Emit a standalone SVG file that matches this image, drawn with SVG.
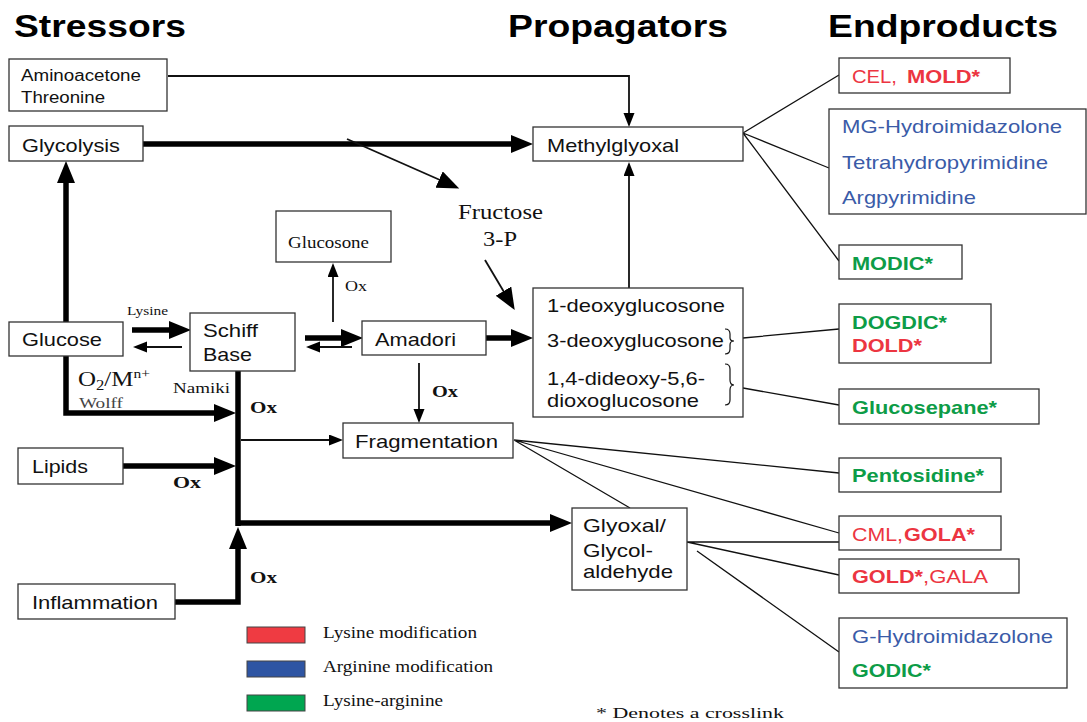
<svg xmlns="http://www.w3.org/2000/svg" width="1087" height="722" viewBox="0 0 1087 722">
<style>
.box{fill:#fff;stroke:#333;stroke-width:1.3}
.s{font-family:"Liberation Sans",Arial,sans-serif;fill:#111}
.t{font-family:"Liberation Serif","Times New Roman",serif;fill:#111}
.ttl{font-family:"Liberation Sans",Arial,sans-serif;font-weight:bold;font-size:31px;fill:#000}
.lbl{font-size:19px}
.b{font-weight:bold}
.red{fill:#ec3541}
.blue{fill:#3a5ba8}
.green{fill:#0d9c47}
.thick{fill:none;stroke:#000;stroke-width:5.5}
.thin{fill:none;stroke:#111;stroke-width:1.8}
.fan{fill:none;stroke:#111;stroke-width:1.3}
</style>
<defs>
<marker id="big" markerUnits="userSpaceOnUse" markerWidth="24" markerHeight="20" refX="1" refY="9" orient="auto"><path d="M0,0 L22,9 L0,18 z" fill="#000"/></marker>
<marker id="small" markerUnits="userSpaceOnUse" markerWidth="16" markerHeight="12" refX="1" refY="5.5" orient="auto"><path d="M0,0 L14,5.5 L0,11 z" fill="#000"/></marker>
</defs>
<rect width="1087" height="722" fill="#fff"/>

<g id="titles">
<text class="ttl" x="14" y="37" textLength="172" lengthAdjust="spacingAndGlyphs">Stressors</text>
<text class="ttl" x="508" y="37" textLength="220" lengthAdjust="spacingAndGlyphs">Propagators</text>
<text class="ttl" x="828" y="37" textLength="230" lengthAdjust="spacingAndGlyphs">Endproducts</text>
</g>

<g id="connectors">
<path class="thin" d="M168,76 H629 V114" marker-end="url(#small)"/>
<path class="thick" d="M143,144 H512" marker-end="url(#big)"/>
<path class="thin" d="M347,139 L440,180" marker-end="url(#big)"/>
<path class="thin" d="M485,260 L504,292" marker-end="url(#big)"/>
<path class="thick" d="M66,322 V182" marker-end="url(#big)"/>
<path class="thick" d="M66,355 V413 H215" marker-end="url(#big)"/>
<path class="thick" d="M123,466 H215" marker-end="url(#big)"/>
<path class="thick" d="M175,602 H238 V548" marker-end="url(#big)"/>
<path class="thick" d="M238,371 V526"/>
<path class="thick" d="M236,523 H551" marker-end="url(#big)"/>
<path class="thin" d="M241,440 H330" marker-end="url(#small)"/>
<path class="thick" d="M132,330 H170" marker-end="url(#big)"/>
<path class="thin" d="M182,347 H146" marker-end="url(#small)"/>
<path class="thick" d="M305,338 H342" marker-end="url(#big)"/>
<path class="thin" d="M352,347 H319" marker-end="url(#small)"/>
<path class="thin" d="M333,322 V276" marker-end="url(#small)"/>
<path class="thick" d="M486,338 H512" marker-end="url(#big)"/>
<path class="thin" d="M419,363 V410" marker-end="url(#small)"/>
<path class="thin" d="M629,288 V175" marker-end="url(#small)"/>
<path class="fan" d="M743,133 L839,75 M743,133 L829,168 M743,133 L839,261"/>
<path class="fan" d="M743,338 L839,329 M743,388 L839,405"/>
<path class="fan" d="M514,440 L839,473 M514,440 L839,533 M514,440 L630,508"/>
<path class="fan" d="M687,542 L839,542 M687,542 L839,575 M697,551 L839,652"/>
</g>

<g id="aminoacetone">
<rect class="box" x="9" y="59" width="158" height="52"/>
<text class="s" x="21" y="81" font-size="16" textLength="120" lengthAdjust="spacingAndGlyphs">Aminoacetone</text>
<text class="s" x="21" y="103" font-size="16" textLength="84" lengthAdjust="spacingAndGlyphs">Threonine</text>
</g>
<g id="glycolysis">
<rect class="box" x="9" y="126" width="134" height="35"/>
<text class="s lbl" x="22" y="152" textLength="98" lengthAdjust="spacingAndGlyphs">Glycolysis</text>
</g>
<g id="glucose">
<rect class="box" x="9" y="322" width="114" height="34"/>
<text class="s lbl" x="22" y="346" textLength="80" lengthAdjust="spacingAndGlyphs">Glucose</text>
</g>
<g id="lipids">
<rect class="box" x="18" y="448" width="105" height="36"/>
<text class="s lbl" x="32" y="473" textLength="56" lengthAdjust="spacingAndGlyphs">Lipids</text>
</g>
<g id="inflammation">
<rect class="box" x="18" y="584" width="157" height="35"/>
<text class="s lbl" x="32" y="609" textLength="126" lengthAdjust="spacingAndGlyphs">Inflammation</text>
</g>
<g id="schiff">
<rect class="box" x="190" y="313" width="105" height="58"/>
<text class="s lbl" x="203" y="337" textLength="55" lengthAdjust="spacingAndGlyphs">Schiff</text>
<text class="s lbl" x="203" y="361" textLength="49" lengthAdjust="spacingAndGlyphs">Base</text>
</g>
<g id="glucosone">
<rect class="box" x="276" y="211" width="115" height="51"/>
<text class="t" x="288" y="248" font-size="17" textLength="81" lengthAdjust="spacingAndGlyphs">Glucosone</text>
</g>
<g id="amadori">
<rect class="box" x="362" y="321" width="124" height="34"/>
<text class="s lbl" x="375" y="346" textLength="81" lengthAdjust="spacingAndGlyphs">Amadori</text>
</g>
<g id="fructose">
<text class="t" x="458" y="219" font-size="21" textLength="85" lengthAdjust="spacingAndGlyphs">Fructose</text>
<text class="t" x="483" y="246" font-size="21" textLength="34" lengthAdjust="spacingAndGlyphs">3-P</text>
</g>
<g id="methylglyoxal">
<rect class="box" x="533" y="127" width="210" height="34"/>
<text class="s lbl" x="547" y="152" textLength="132" lengthAdjust="spacingAndGlyphs">Methylglyoxal</text>
</g>
<g id="deoxy">
<rect class="box" x="533" y="288" width="210" height="129"/>
<text class="s lbl" x="547" y="312" textLength="178" lengthAdjust="spacingAndGlyphs">1-deoxyglucosone</text>
<text class="s lbl" x="547" y="347" textLength="177" lengthAdjust="spacingAndGlyphs">3-deoxyglucosone</text>
<text class="s lbl" x="547" y="385" textLength="158" lengthAdjust="spacingAndGlyphs">1,4-dideoxy-5,6-</text>
<text class="s lbl" x="547" y="407" textLength="152" lengthAdjust="spacingAndGlyphs">dioxoglucosone</text>
<path d="M725,329 Q730,329 730,334 V338 Q730,341 734,341 Q730,341 730,345 V349 Q730,354 725,354" fill="none" stroke="#111" stroke-width="1.2"/>
<path d="M725,364 Q730,364 730,369 V380 Q730,385 734,385 Q730,385 730,390 V400 Q730,405 725,405" fill="none" stroke="#111" stroke-width="1.2"/>
</g>
<g id="fragmentation">
<rect class="box" x="343" y="423" width="170" height="35"/>
<text class="s lbl" x="355" y="448" textLength="143" lengthAdjust="spacingAndGlyphs">Fragmentation</text>
</g>
<g id="glyoxal">
<rect class="box" x="572" y="508" width="115" height="82"/>
<text class="s lbl" x="583" y="532" textLength="83" lengthAdjust="spacingAndGlyphs">Glyoxal/</text>
<text class="s lbl" x="583" y="557" textLength="70" lengthAdjust="spacingAndGlyphs">Glycol-</text>
<text class="s lbl" x="583" y="578" textLength="90" lengthAdjust="spacingAndGlyphs">aldehyde</text>
</g>

<g id="edge-labels">
<text class="t" x="127" y="315" font-size="13" textLength="41" lengthAdjust="spacingAndGlyphs">Lysine</text>
<text class="t" x="78" y="386" font-size="21" textLength="72" lengthAdjust="spacingAndGlyphs">O<tspan font-size="14" dy="4">2</tspan><tspan dy="-4">/M</tspan><tspan font-size="13" dy="-8">n+</tspan></text>
<text class="t" x="79" y="408" font-size="15" fill="#444" textLength="44" lengthAdjust="spacingAndGlyphs" style="fill:#444">Wolff</text>
<text class="t" x="173" y="393" font-size="15" textLength="57" lengthAdjust="spacingAndGlyphs">Namiki</text>
<text class="t b" x="250" y="413" font-size="17" textLength="27" lengthAdjust="spacingAndGlyphs">Ox</text>
<text class="t b" x="173" y="488" font-size="17" textLength="28" lengthAdjust="spacingAndGlyphs">Ox</text>
<text class="t b" x="250" y="583" font-size="17" textLength="27" lengthAdjust="spacingAndGlyphs">Ox</text>
<text class="t b" x="432" y="397" font-size="17" textLength="26" lengthAdjust="spacingAndGlyphs">Ox</text>
<text class="t" x="345" y="291" font-size="15" textLength="22" lengthAdjust="spacingAndGlyphs">Ox</text>
</g>

<g id="cel-mold">
<rect class="box" x="839" y="58" width="171" height="35"/>
<text class="s lbl red" x="852" y="83" textLength="45" lengthAdjust="spacingAndGlyphs">CEL,</text>
<text class="s lbl b red" x="907" y="83" textLength="73" lengthAdjust="spacingAndGlyphs">MOLD*</text>
</g>
<g id="mg-products">
<rect class="box" x="829" y="109" width="257" height="105"/>
<text class="s lbl blue" x="842" y="133" textLength="220" lengthAdjust="spacingAndGlyphs">MG-Hydroimidazolone</text>
<text class="s lbl blue" x="842" y="169" textLength="206" lengthAdjust="spacingAndGlyphs">Tetrahydropyrimidine</text>
<text class="s lbl blue" x="842" y="204" textLength="134" lengthAdjust="spacingAndGlyphs">Argpyrimidine</text>
</g>
<g id="modic">
<rect class="box" x="839" y="245" width="123" height="34"/>
<text class="s lbl b green" x="852" y="270" textLength="81" lengthAdjust="spacingAndGlyphs">MODIC*</text>
</g>
<g id="dogdic-dold">
<rect class="box" x="839" y="304" width="152" height="59"/>
<text class="s lbl b green" x="852" y="329" textLength="95" lengthAdjust="spacingAndGlyphs">DOGDIC*</text>
<text class="s lbl b red" x="852" y="352" textLength="70" lengthAdjust="spacingAndGlyphs">DOLD*</text>
</g>
<g id="glucosepane">
<rect class="box" x="839" y="389" width="200" height="35"/>
<text class="s lbl b green" x="852" y="414" textLength="145" lengthAdjust="spacingAndGlyphs">Glucosepane*</text>
</g>
<g id="pentosidine">
<rect class="box" x="839" y="458" width="162" height="34"/>
<text class="s lbl b green" x="852" y="482" textLength="132" lengthAdjust="spacingAndGlyphs">Pentosidine*</text>
</g>
<g id="cml-gola">
<rect class="box" x="839" y="516" width="162" height="34"/>
<text class="s lbl red" x="852" y="541" textLength="51" lengthAdjust="spacingAndGlyphs">CML,</text>
<text class="s lbl b red" x="904" y="541" textLength="71" lengthAdjust="spacingAndGlyphs">GOLA*</text>
</g>
<g id="gold-gala">
<rect class="box" x="839" y="559" width="180" height="34"/>
<text class="s lbl b red" x="852" y="583" textLength="71" lengthAdjust="spacingAndGlyphs">GOLD*</text>
<text class="s lbl red" x="923" y="583" textLength="65" lengthAdjust="spacingAndGlyphs">,GALA</text>
</g>
<g id="g-products">
<rect class="box" x="839" y="618" width="228" height="70"/>
<text class="s lbl blue" x="852" y="643" textLength="201" lengthAdjust="spacingAndGlyphs">G-Hydroimidazolone</text>
<text class="s lbl b green" x="852" y="677" textLength="79" lengthAdjust="spacingAndGlyphs">GODIC*</text>
</g>

<g id="legend">
<rect x="247" y="627" width="58" height="16" fill="#ef3b42" stroke="#444" stroke-width="1"/>
<rect x="247" y="661" width="58" height="16" fill="#2e55a3" stroke="#444" stroke-width="1"/>
<rect x="247" y="695" width="58" height="16" fill="#00a650" stroke="#444" stroke-width="1"/>
<text class="t" x="323" y="638" font-size="16" textLength="154" lengthAdjust="spacingAndGlyphs">Lysine modification</text>
<text class="t" x="323" y="672" font-size="16" textLength="170" lengthAdjust="spacingAndGlyphs">Arginine modification</text>
<text class="t" x="323" y="706" font-size="16" textLength="120" lengthAdjust="spacingAndGlyphs">Lysine-arginine</text>
<text class="t" x="596" y="718" font-size="15" textLength="188" lengthAdjust="spacingAndGlyphs">* Denotes a crosslink</text>
</g>
</svg>
